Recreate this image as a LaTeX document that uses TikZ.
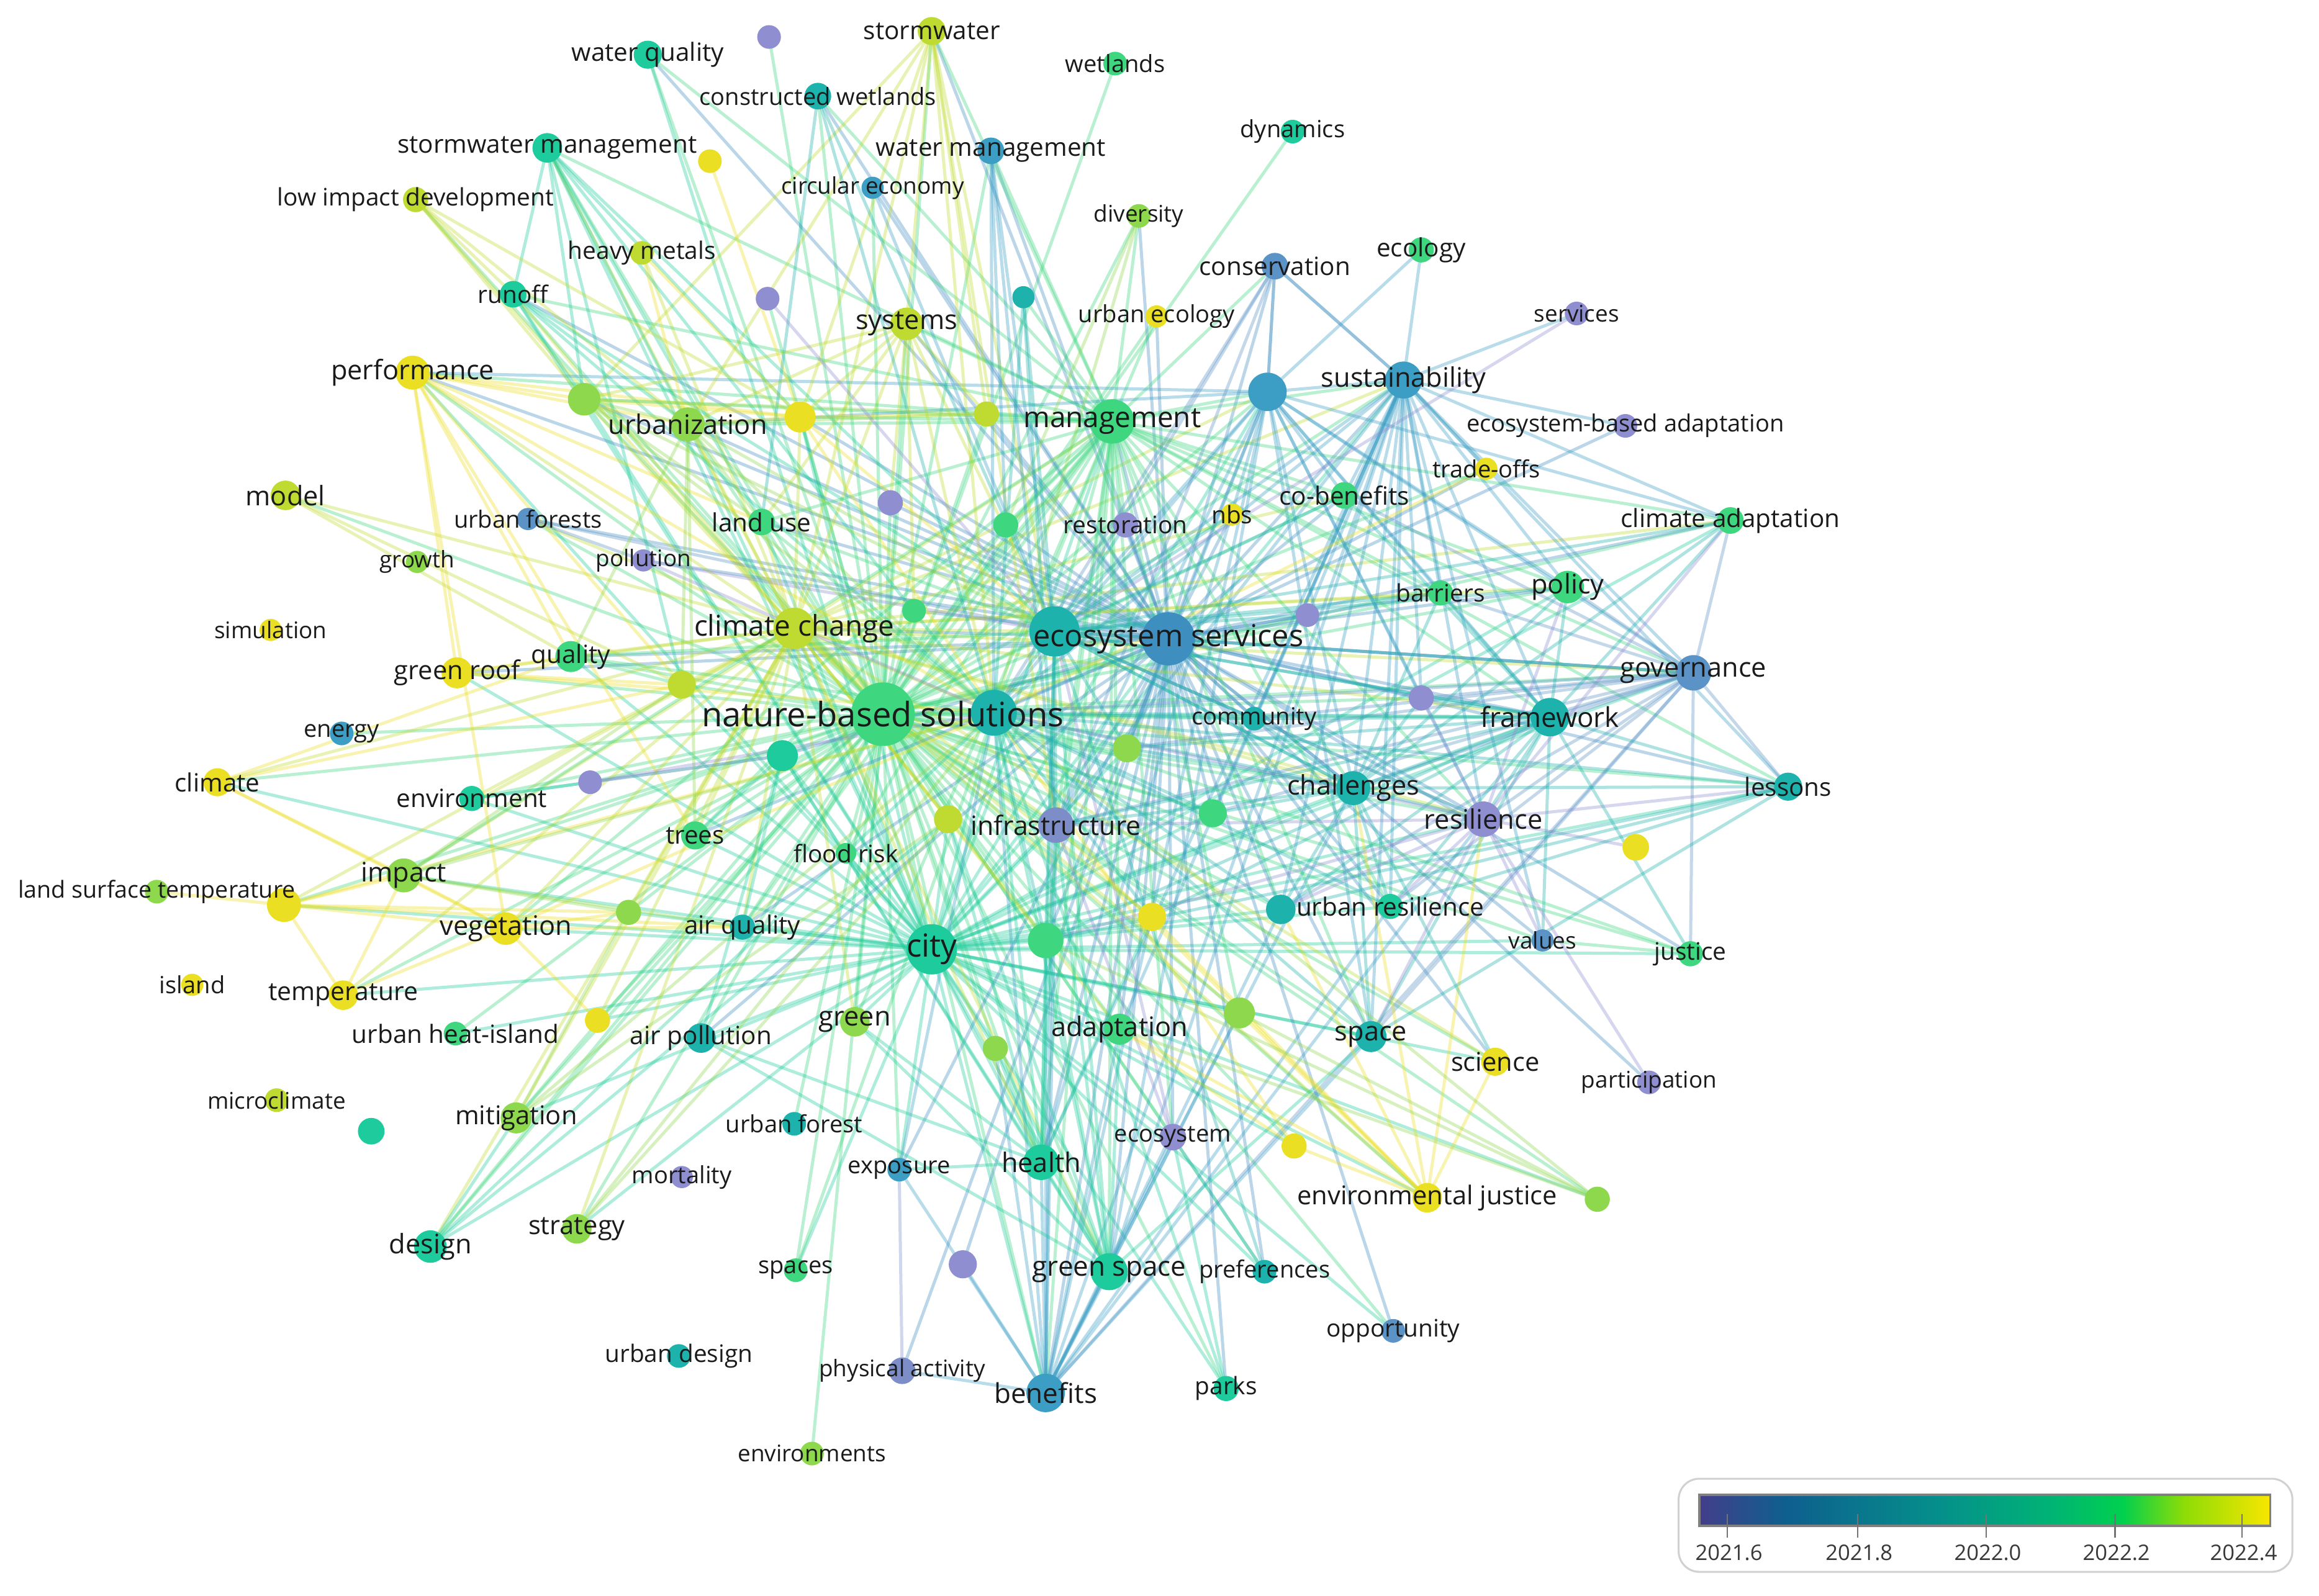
\documentclass[tikz,border=0pt]{standalone}
\usepackage{fontspec}
\setmainfont{Open Sans}
\pgfdeclarelayer{bg}
\pgfsetlayers{bg,main}
\definecolor{cP}{HTML}{8E8ED0}
\definecolor{cPB}{HTML}{7C8DC8}
\definecolor{cB}{HTML}{5B93C6}
\definecolor{cBT}{HTML}{3C9EC4}
\definecolor{cBd}{HTML}{3F8EC0}
\definecolor{cT}{HTML}{1EB2AC}
\definecolor{cTG}{HTML}{1ECB9C}
\definecolor{cG}{HTML}{3ED67F}
\definecolor{cGY}{HTML}{8ED84E}
\definecolor{cYG}{HTML}{BFDA30}
\definecolor{cY}{HTML}{EBDF24}
\definecolor{lbl}{HTML}{1A1A1A}
\definecolor{v0}{HTML}{433E8A}
\definecolor{v1}{HTML}{0E5F8E}
\definecolor{v2}{HTML}{058F8B}
\definecolor{v3}{HTML}{00B474}
\definecolor{v4}{HTML}{00D04E}
\definecolor{v5}{HTML}{8EDC06}
\definecolor{v6}{HTML}{F8E600}
\tikzset{
  ed/.style={line width=2.1pt, draw opacity=0.36},
  kw/.style 2 args={circle, inner sep=0pt, minimum size=#2pt, fill=#1},
  lb/.style={font=\fontsize{#1}{#1}\selectfont, text=lbl, inner sep=0pt},
  tick/.style={draw=black!55, line width=1pt},
  ticklab/.style={font=\fontsize{14.5}{14.5}\selectfont, text=black!78, inner sep=0pt}
}
\newcommand{\mykw}[5]{\node[kw={#5}{#4}] (#1) at (#2,#3) {};}
\newcommand{\mylab}[3]{\node[lb=#2] (#1-l) at (#1) {#3};}
\newcommand{\myhub}[3]{\foreach \tg in {#3} {\draw[ed,draw=#2] (#1.center) -- (\tg.center);}}
\begin{document}
\begin{tikzpicture}[x=1pt,y=-1pt]
\useasboundingbox (0,0) rectangle (1568,1079);
% ---------------- nodes ----------------
\mykw{wq}{438}{37}{19}{cTG}
\mykw{pu1}{520}{25}{16}{cP}
\mykw{sw}{630}{21}{19}{cYG}
\mykw{wet}{754}{43}{16}{cG}
\mykw{cw}{553}{65}{18}{cT}
\mykw{wm}{670}{102}{18}{cBT}
\mykw{dyn}{874}{89}{16}{cTG}
\mykw{swm}{370}{100}{20}{cTG}
\mykw{y1}{480}{109}{16}{cY}
\mykw{ce}{590}{127}{15}{cBT}
\mykw{lid}{281}{135}{17}{cYG}
\mykw{div}{770}{146}{16}{cGY}
\mykw{hm}{434}{171}{16}{cYG}
\mykw{eco}{961}{169}{17}{cG}
\mykw{cons}{862}{180}{18}{cB}
\mykw{run}{347}{199}{18}{cTG}
\mykw{pu2}{519}{202}{16}{cP}
\mykw{t1}{692}{201}{15}{cT}
\mykw{sys}{613}{219}{22}{cYG}
\mykw{uec}{782}{214}{15}{cY}
\mykw{serv}{1066}{212}{16}{cP}
\mykw{perf}{279}{252}{23}{cY}
\mykw{sust}{949}{257}{25}{cBT}
\mykw{b1}{857}{265}{26}{cBT}
\mykw{gy1}{395}{270}{22}{cGY}
\mykw{urb}{465}{287}{23}{cGY}
\mykw{y2}{541}{282}{21}{cY}
\mykw{yg1}{667}{280}{17}{cYG}
\mykw{mgmt}{752}{285}{30}{cG}
\mykw{eba}{1099}{288}{16}{cP}
\mykw{tof}{1005}{317}{15}{cY}
\mykw{model}{193}{335}{20}{cYG}
\mykw{ufs}{357}{351}{15}{cB}
\mykw{lu}{515}{353}{18}{cG}
\mykw{pu3}{602}{340}{17}{cP}
\mykw{g1}{680}{355}{17}{cG}
\mykw{rest}{761}{355}{17}{cP}
\mykw{nbsw}{833}{348}{15}{cY}
\mykw{cob}{909}{335}{18}{cG}
\mykw{ca}{1170}{352}{18}{cG}
\mykw{grow}{282}{380}{15}{cGY}
\mykw{poll}{435}{379}{15}{cP}
\mykw{sim}{183}{426}{15}{cY}
\mykw{bar}{974}{401}{17}{cG}
\mykw{pol}{1060}{397}{22}{cG}
\mykw{g2}{618}{413}{16}{cG}
\mykw{pu4}{884}{416}{16}{cP}
\mykw{cc}{537}{425}{28}{cYG}
\mykw{t2}{713}{427}{34}{cT}
\mykw{es}{790}{432}{36}{cBd}
\mykw{gov}{1145}{455}{24}{cB}
\mykw{gr}{309}{455}{21}{cY}
\mykw{qual}{386}{444}{21}{cG}
\mykw{yg2}{461}{463}{19}{cYG}
\mykw{t3}{672}{482}{31}{cT}
\mykw{nbs}{597}{483}{43}{cG}
\mykw{comm}{848}{486}{16}{cT}
\mykw{fw}{1048}{485}{26}{cT}
\mykw{pu5}{961}{472}{17}{cP}
\mykw{en}{231}{496}{16}{cBT}
\mykw{clim}{147}{529}{19}{cY}
\mykw{env}{319}{540}{17}{cTG}
\mykw{pu6}{399}{529}{16}{cP}
\mykw{t4}{529}{511}{21}{cTG}
\mykw{gy2}{762}{506}{19}{cGY}
\mykw{chal}{915}{533}{23}{cT}
\mykw{res}{1003}{554}{24}{cP}
\mykw{les}{1209}{532}{19}{cT}
\mykw{trees}{470}{565}{19}{cG}
\mykw{inf}{714}{558}{24}{cPB}
\mykw{yg3}{641}{554}{19}{cYG}
\mykw{g3}{820}{550}{19}{cG}
\mykw{y3}{1106}{573}{18}{cY}
\mykw{fr}{572}{577}{14}{cG}
\mykw{lst}{106}{603}{16}{cGY}
\mykw{imp}{273}{592}{23}{cGY}
\mykw{y4}{192}{612}{23}{cY}
\mykw{veg}{342}{628}{22}{cY}
\mykw{gy3}{425}{617}{17}{cGY}
\mykw{aq}{502}{627}{17}{cT}
\mykw{city}{630}{642}{34}{cTG}
\mykw{g4}{707}{636}{24}{cG}
\mykw{y5}{779}{620}{19}{cY}
\mykw{t5}{866}{615}{20}{cT}
\mykw{ur}{940}{613}{17}{cTG}
\mykw{val}{1043}{636}{15}{cB}
\mykw{jus}{1143}{645}{17}{cG}
\mykw{isl}{130}{666}{15}{cY}
\mykw{temp}{232}{673}{20}{cY}
\mykw{y6}{404}{690}{17}{cY}
\mykw{ap}{474}{702}{20}{cT}
\mykw{grn}{578}{691}{20}{cGY}
\mykw{adap}{757}{696}{21}{cG}
\mykw{gy4}{838}{685}{21}{cGY}
\mykw{gy5}{673}{709}{17}{cGY}
\mykw{uhi}{308}{699}{16}{cG}
\mykw{space}{927}{701}{21}{cT}
\mykw{sci}{1011}{718}{19}{cY}
\mykw{part}{1115}{732}{16}{cP}
\mykw{micro}{187}{744}{16}{cYG}
\mykw{t6}{251}{765}{18}{cTG}
\mykw{mit}{349}{756}{21}{cGY}
\mykw{uf}{537}{760}{16}{cT}
\mykw{ecos}{793}{769}{18}{cP}
\mykw{y7}{875}{775}{17}{cY}
\mykw{hea}{704}{786}{24}{cTG}
\mykw{exp}{608}{791}{16}{cBT}
\mykw{mort}{461}{796}{15}{cP}
\mykw{ej}{965}{810}{20}{cY}
\mykw{gy6}{1080}{811}{17}{cGY}
\mykw{des}{291}{843}{22}{cTG}
\mykw{strat}{390}{831}{20}{cGY}
\mykw{sps}{538}{859}{16}{cG}
\mykw{pu7}{651}{855}{19}{cP}
\mykw{gs}{750}{860}{25}{cTG}
\mykw{pref}{855}{860}{16}{cT}
\mykw{opp}{942}{900}{16}{cB}
\mykw{ud}{459}{917}{16}{cT}
\mykw{pa}{610}{927}{18}{cPB}
\mykw{ben}{707}{942}{26}{cBT}
\mykw{parks}{829}{939}{17}{cTG}
\mykw{envs}{549}{983}{16}{cGY}
% ---------------- edges ----------------
\begin{pgfonlayer}{bg}
\myhub{nbs}{cG}{wq,pu1,sw,wet,cw,wm,dyn,swm,ce,lid,div,run,pu2,sys,uec,perf,sust,b1,gy1,urb,y2,yg1,mgmt,tof,model,ufs,lu,pu3,g1,rest,nbsw,cob,ca,poll,bar,pol,g2,pu4,cc,es,t2,gov,gr,qual,yg2,t3,comm,fw,pu5,en,clim,env,pu6,t4,gy2,chal,res,les,trees,inf,yg3,g3,fr,imp,y4,veg,gy3,aq,city,g4,y5,t5,ur,val,jus,temp,y6,ap,grn,adap,gy4,gy5,uhi,space,sci,mit,uf,ecos,y7,hea,exp,ej,gy6,des,strat,sps,gs,pref,opp,ben,parks,envs}
\myhub{city}{cTG}{wq,swm,run,perf,gy1,urb,y2,cc,es,t2,t3,mgmt,sust,b1,gov,fw,chal,res,t5,ur,space,adap,hea,gs,ben,aq,veg,y4,imp,trees,des,mit,strat,ap,grn,exp,lu,qual,gr,jus,val,les,sci,ej,uhi,g4,y5,gy4,gy5,inf,fr,gy3,y6,sps,pol,ca,clim,env,t4,yg3,gy2,g3,y7,ecos,pref,parks,opp,temp,yg2,gy6}
\myhub{es}{cBd}{sust,b1,cons,mgmt,pol,gov,fw,chal,res,bar,cob,rest,nbsw,uec,div,wm,cw,ce,lu,ufs,poll,cc,hea,gs,ben,ecos,inf,comm,space,ur,t5,les,ca,eba,tof,val,opp,pref,parks,pa,exp,run,wq,sys,sw,pu4,pu5,gy2,g3,y5,g4,t2,t3,adap,pu7,jus,part,sci,perf,urb,gy1,y2,yg1,qual,gr,trees,t4,aq,ap,pu3,g1,g2}
\myhub{cc}{cYG}{perf,urb,model,gr,qual,clim,imp,y4,veg,temp,mit,adap,mgmt,pol,gov,fw,res,chal,trees,aq,sust,sys,lid,ufs,lu,des,strat,hea,gs,gy1,y2,yg2,gy3,y6,env,sw,swm,run,hm,grn,b1,ca,bar,cob,y5,gy4,ej,sci,t2,t3,inf,g4,yg3}
\myhub{mgmt}{cG}{wq,swm,run,wm,sw,div,uec,cons,sust,b1,ca,pol,fw,gov,chal,res,inf,hea,ben,gs,des,mit,perf,urb,sys,cw,lu,fr,ur,space,adap,ecos,les,bar,cob,t1,yg1,g1,rest,y2,gy1,trees,veg,imp,aq,grn,t5,gy4,t2,t3,g4}
\myhub{sust}{cBT}{serv,tof,pol,gov,fw,chal,res,b1,cons,ur,val,ben,gs,hea,inf,cob,bar,ca,les,t5,space,adap,pu4,pu5,comm,g3,eco,t2,t3,eba}
\myhub{b1}{cBT}{eco,cons,fw,gov,chal,res,pol,ca,ben,inf,urb,perf,t2,t3,gy2,pu5,space,hea,gs,bar,cob}
\myhub{gov}{cB}{fw,pol,res,chal,les,ca,ur,space,ben,bar,cob,pu5,t5,comm,gy2,g3,t2,t3,inf,jus}
\myhub{fw}{cT}{pol,les,chal,res,ca,bar,cob,comm,ur,t5,pu5,jus,space,inf,gy2,t2,t3,g4,y5,val}
\myhub{ben}{cBT}{hea,gs,pa,pu7,exp,space,ur,t5,inf,chal,res,g4,adap,gy4,ecos,gy5,t2,t3}
\myhub{gs}{cTG}{hea,inf,t2,t3,g4,adap,space,ap,gy5,grn,t4,yg3}
\myhub{hea}{cTG}{ap,inf,t2,t3,g4,exp,grn,t4,gy5,y5,yg3}
\myhub{ej}{cY}{y5,y7,gy4,sci,adap,res,chal,t5,inf}
\myhub{chal}{cT}{res,les,pol,ca,ur,t5,space,sci,inf,g3,gy2,pu5,bar,t2,t3,comm}
\myhub{res}{cP}{y3,part,ca,pol,les,ur,t5,val,space,pu5,inf,g4,t2,t3}
\myhub{sw}{cYG}{sys,urb,yg1,gy1,y2,t2,t3,inf}
\myhub{swm}{cTG}{gy1,urb,run,t2,t3,lu,y2,yg2}
\myhub{lid}{cYG}{run,gy1,urb,y2}
\myhub{run}{cTG}{gy1,t2,t3,urb}
\myhub{perf}{cY}{gr,gy1,urb,y2,yg2,t3,qual,trees,veg,lu}
\myhub{y1}{cY}{y2}
\myhub{hm}{cY}{y2,urb}
\myhub{model}{cYG}{yg2,qual}
\myhub{ufs}{cB}{poll,t2}
\myhub{poll}{cP}{t2,t3}
\myhub{clim}{cY}{veg,imp,yg2,qual}
\myhub{y4}{cY}{imp,veg,temp,aq,gy3,lst,t3}
\myhub{temp}{cY}{veg,imp}
\myhub{veg}{cY}{aq,gy3,t3,imp,y6}
\myhub{imp}{cGY}{t3,aq,gy3,yg2}
\myhub{des}{cTG}{mit,t3,yg3}
\myhub{mit}{cGY}{t3,yg3,gy3}
\myhub{strat}{cGY}{yg3,t3}
\myhub{sps}{cG}{t3}
\myhub{pa}{cPB}{exp}
\myhub{exp}{cBT}{t3}
\myhub{gy6}{cGY}{adap,gy4,g4,t3}
\myhub{jus}{cG}{val,t3}
\myhub{les}{cT}{t3,g4,ur,t5,space}
\myhub{parks}{cTG}{ecos,t3}
\myhub{pref}{cT}{ecos,t2}
\myhub{ecos}{cP}{inf,t2}
\myhub{y7}{cY}{adap,t3}
\myhub{serv}{cP}{t2}
\myhub{tof}{cY}{t3}
\myhub{cons}{cB}{b1,sust,t2,t3,inf}
\myhub{div}{cGY}{g1,t3}
\myhub{wm}{cBT}{t2,t3,g1,inf}
\myhub{cw}{cT}{t2,t3,lu}
\myhub{ce}{cBT}{t2}
\myhub{t1}{cT}{t3,t2,inf}
\myhub{sys}{cYG}{t2,t3,y2,yg1,lu,gy1,urb,pu3,g2}
\myhub{y2}{cY}{yg1,t2,t3,urb,gy1}
\myhub{gy1}{cGY}{urb,yg1,t2,t3,lu}
\myhub{urb}{cGY}{t2,t3,yg1,lu,trees,qual,yg2}
\myhub{t2}{cT}{t3,inf,g4,gy2,comm,chal,res,pol,bar,cob,rest,nbsw,pu4,fw,gov,ca}
\myhub{t3}{cT}{inf,g4,comm,space,ur,t5,gy2,g3,y5}
\myhub{gr}{cY}{qual,yg2,t3}
\myhub{qual}{cG}{yg2,t3,t2}
\myhub{env}{cTG}{pu6,t4}
\myhub{pu6}{cP}{t4,t3}
\myhub{t4}{cTG}{aq,ap,trees}
\myhub{lu}{cG}{t2,t3}
\myhub{pu2}{cP}{t2}
\end{pgfonlayer}
% ---------------- labels ----------------
\mylab{wq}{17}{water quality}
\mylab{sw}{17}{stormwater}
\mylab{wet}{16}{wetlands}
\mylab{cw}{16}{constructed wetlands}
\mylab{wm}{17}{water management}
\mylab{dyn}{16}{dynamics}
\mylab{swm}{17}{stormwater management}
\mylab{ce}{15.5}{circular economy}
\mylab{lid}{16.3}{low impact development}
\mylab{div}{15.5}{diversity}
\mylab{hm}{16.3}{heavy metals}
\mylab{eco}{17}{ecology}
\mylab{cons}{17}{conservation}
\mylab{run}{16.3}{runoff}
\mylab{sys}{18.2}{systems}
\mylab{uec}{16}{urban ecology}
\mylab{serv}{15.5}{services}
\mylab{perf}{18.2}{performance}
\mylab{sust}{18.2}{sustainability}
\mylab{urb}{18.2}{urbanization}
\mylab{mgmt}{19.3}{management}
\mylab{eba}{16}{ecosystem-based adaptation}
\mylab{tof}{16}{trade-offs}
\mylab{model}{18.2}{model}
\mylab{ufs}{16}{urban forests}
\mylab{lu}{17}{land use}
\mylab{rest}{16.3}{restoration}
\mylab{nbsw}{16.3}{nbs}
\mylab{cob}{17}{co-benefits}
\mylab{ca}{17}{climate adaptation}
\mylab{grow}{15.5}{growth}
\mylab{poll}{15.5}{pollution}
\mylab{sim}{15.5}{simulation}
\mylab{bar}{16.3}{barriers}
\mylab{pol}{18.2}{policy}
\mylab{cc}{19.3}{climate change}
\mylab{es}{20.5}{ecosystem services}
\mylab{gov}{18.2}{governance}
\mylab{gr}{17.5}{green roof}
\mylab{qual}{17}{quality}
\mylab{nbs}{22.8}{nature-based solutions}
\mylab{comm}{16}{community}
\mylab{fw}{18.5}{framework}
\mylab{en}{16}{energy}
\mylab{clim}{17}{climate}
\mylab{env}{17}{environment}
\mylab{chal}{18.2}{challenges}
\mylab{res}{18.2}{resilience}
\mylab{les}{17}{lessons}
\mylab{trees}{17}{trees}
\mylab{inf}{18}{infrastructure}
\mylab{fr}{16.3}{flood risk}
\mylab{lst}{15.8}{land surface temperature}
\mylab{imp}{18.2}{impact}
\mylab{veg}{18.2}{vegetation}
\mylab{aq}{17}{air quality}
\mylab{city}{21.5}{city}
\mylab{ur}{17}{urban resilience}
\mylab{val}{15.5}{values}
\mylab{jus}{16.3}{justice}
\mylab{isl}{16}{island}
\mylab{temp}{17.2}{temperature}
\mylab{ap}{17}{air pollution}
\mylab{grn}{18.2}{green}
\mylab{adap}{18.2}{adaptation}
\mylab{uhi}{17}{urban heat-island}
\mylab{space}{18.2}{space}
\mylab{sci}{17.5}{science}
\mylab{part}{15.5}{participation}
\mylab{micro}{15.5}{microclimate}
\mylab{mit}{17.5}{mitigation}
\mylab{uf}{16}{urban forest}
\mylab{ecos}{16}{ecosystem}
\mylab{hea}{18.2}{health}
\mylab{exp}{16}{exposure}
\mylab{mort}{16}{mortality}
\mylab{ej}{17.5}{environmental justice}
\mylab{des}{18.2}{design}
\mylab{strat}{17.5}{strategy}
\mylab{sps}{16}{spaces}
\mylab{gs}{18.5}{green space}
\mylab{pref}{16}{preferences}
\mylab{opp}{16.3}{opportunity}
\mylab{ud}{16.3}{urban design}
\mylab{pa}{15.5}{physical activity}
\mylab{ben}{18.5}{benefits}
\mylab{parks}{16.3}{parks}
\mylab{envs}{15.5}{environments}
% ---------------- legend ----------------
\draw[draw=black!18, line width=1.3pt, rounded corners=14pt, fill=white] (1135,1000) rectangle (1550,1063);
\shade[left color=v0, right color=v1] (1149,1011) rectangle (1207,1032);
\shade[left color=v1, right color=v2] (1207,1011) rectangle (1311,1032);
\shade[left color=v2, right color=v3] (1311,1011) rectangle (1388,1032);
\shade[left color=v3, right color=v4] (1388,1011) rectangle (1435,1032);
\shade[left color=v4, right color=v5] (1435,1011) rectangle (1477,1032);
\shade[left color=v5, right color=v6] (1477,1011) rectangle (1535,1032);
\draw[draw=black!50, line width=1.5pt] (1149,1011) rectangle (1535,1032);
\foreach \xx/\yr [count=\i] in {1168/2021.6,1256/2021.8,1343/2022.0,1430/2022.2,1516/2022.4}{
  \draw[tick] (\xx,1024) -- (\xx,1040);
  \node[ticklab] (yr\i) at (\xx+1,1050) {\yr};
}
\end{tikzpicture}
\end{document}
